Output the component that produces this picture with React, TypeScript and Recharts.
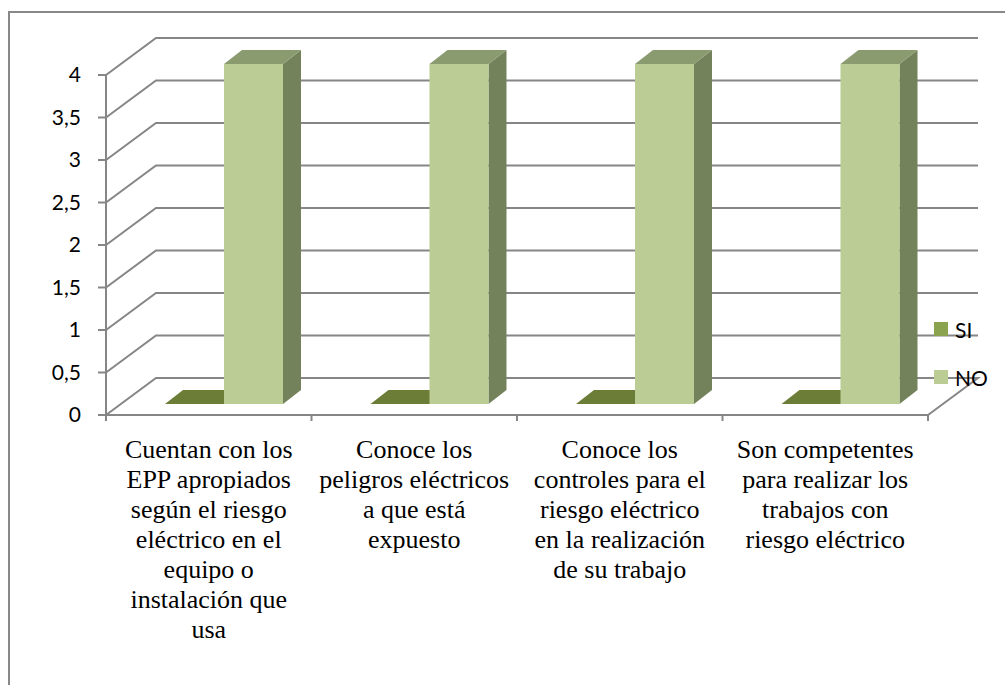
import React from 'react';
import { BarChart, Bar, XAxis, YAxis, CartesianGrid, Legend } from 'recharts';

const categories = [
  'Cuentan con los\nEPP apropiados\nsegún el riesgo\neléctrico en el\nequipo o\ninstalación que\nusa',
  'Conoce los\npeligros eléctricos\na que está\nexpuesto',
  'Conoce los\ncontroles para el\nriesgo eléctrico\nen la realización\nde su trabajo',
  'Son competentes\npara realizar los\ntrabajos con\nriesgo eléctrico',
];
const seriesNames = ['SI', 'NO'];
const siValues = [0, 0, 0, 0];
const noValues = [4, 4, 4, 4];
const yTicks = [0, 0.5, 1, 1.5, 2, 2.5, 3, 3.5, 4];

const data = categories.map((name, i) => ({ name, SI: siValues[i], NO: noValues[i] }));

const CHART_W = 1005;
const CHART_H = 685;
const Y_AXIS_W = 106;
const MARGIN = { top: 75, right: 77, bottom: 240, left: 0 };
const BAND = (CHART_W - Y_AXIS_W - MARGIN.left - MARGIN.right) / categories.length;

// 3d look: back wall offset and bar depth
const WALL_DX = 50;
const WALL_DY = 37;
const BAR_OX = 15;
const BAR_OY = -11;
const BAR_DX = 18;
const BAR_DY = 14;

const GRID = '#868686';
const SANS = 'Lato, "Open Sans", sans-serif';
const SERIF = "'Liberation Serif', Tinos, 'DejaVu Serif', serif";

const gridLine = (p: any) => {
  const { x1, y1, x2, y, height } = p;
  const floor = Math.abs(y1 - (y + height)) < 0.5;
  let d = `M${x1},${y1}L${x1 + WALL_DX},${y1 - WALL_DY}L${x2 + WALL_DX},${y1 - WALL_DY}`;
  if (floor) d += `L${x2},${y1}`;
  return <path key={`grid-${y1}`} d={d} stroke={GRID} strokeWidth={2} fill="none" />;
};

const makeBar = (front: string, side: string, top: string) => (props: any) => {
  const { x, y, width, height } = props;
  const fx = x + BAR_OX;
  const fy = y + BAR_OY;
  const w = width;
  const h = height;
  const topPts = `${fx},${fy} ${fx + BAR_DX},${fy - BAR_DY} ${fx + w + BAR_DX},${fy - BAR_DY} ${fx + w},${fy}`;
  const sidePts = `${fx + w},${fy} ${fx + w + BAR_DX},${fy - BAR_DY} ${fx + w + BAR_DX},${fy + h - BAR_DY} ${fx + w},${fy + h}`;
  return (
    <g>
      {h > 0 && <polygon points={sidePts} fill={side} />}
      {h > 0 && <rect x={fx} y={fy} width={w} height={h} fill={front} />}
      <polygon points={topPts} fill={top} />
    </g>
  );
};

const CategoryTick = (props: any) => {
  const { x, y, payload, index } = props;
  const lines = String(payload.value).split('\n');
  const left = x - BAND / 2;
  return (
    <g>
      <line x1={left} y1={y - 8} x2={left} y2={y - 2} stroke={GRID} strokeWidth={2} />
      {index === categories.length - 1 && (
        <line x1={left + BAND} y1={y - 8} x2={left + BAND} y2={y - 2} stroke={GRID} strokeWidth={2} />
      )}
      {lines.map((l, i) => (
        <text
          key={i}
          x={x}
          y={y + 35 + i * 30}
          textAnchor="middle"
          fontFamily={SERIF}
          fontSize={26}
          fill="#000"
          style={{ fontFamily: SERIF }}
        >
          {l}
        </text>
      ))}
    </g>
  );
};

const renderLegend = (props: any) => {
  const payload = [...(props.payload || [])].sort(
    (a: any, b: any) => seriesNames.indexOf(a.value) - seriesNames.indexOf(b.value),
  );
  return (
    <div>
      {payload.map((entry: any, i: number) => (
        <div key={entry.value} style={{ display: 'flex', alignItems: 'center', height: 28, marginTop: i === 0 ? 0 : 20 }}>
          <span style={{ display: 'inline-block', width: 14, height: 14, background: entry.color }} />
          <span style={{ marginLeft: 7, fontFamily: SANS, fontSize: 21, color: '#000' }}>{entry.value}</span>
        </div>
      ))}
    </div>
  );
};

export default function App() {
  return (
    <div style={{ position: 'fixed', left: 0, top: 0, width: CHART_W, height: CHART_H, overflow: 'hidden', background: '#fff' }}>
      <div style={{ position: 'absolute', left: 8, top: 11, width: 1100, height: 800, borderTop: '2px solid #888', borderLeft: '2px solid #888' }} />
      <div style={{ position: 'absolute', left: 0, top: 0 }}>
        <BarChart width={CHART_W} height={CHART_H} data={data} margin={MARGIN} barCategoryGap={44} barGap={0}>
          <CartesianGrid vertical={false} horizontal={gridLine} />
          <XAxis
            dataKey="name"
            height={30}
            interval={0}
            tickLine={false}
            axisLine={{ stroke: GRID, strokeWidth: 2 }}
            tick={<CategoryTick />}
          />
          <YAxis
            width={Y_AXIS_W}
            domain={[0, 4]}
            ticks={yTicks}
            interval={0}
            tickSize={8}
            tickMargin={17}
            tickFormatter={(v: number) => String(v).replace('.', ',')}
            tick={{ fontFamily: SANS, fontSize: 21, fill: '#000' }}
            tickLine={{ stroke: GRID, strokeWidth: 2 }}
            axisLine={{ stroke: GRID, strokeWidth: 2 }}
          />
          <Legend
            layout="vertical"
            align="center"
            verticalAlign="middle"
            content={renderLegend}
            wrapperStyle={{ left: 934, top: 315, width: 70 }}
          />
          <Bar dataKey="SI" fill="#8BA34E" isAnimationActive={false} shape={makeBar('#8BA34E', '#5F7030', '#6B7D37')} />
          <Bar dataKey="NO" fill="#BBCC94" isAnimationActive={false} shape={makeBar('#BBCC94', '#74825B', '#8B9B70')} />
        </BarChart>
      </div>
    </div>
  );
}
